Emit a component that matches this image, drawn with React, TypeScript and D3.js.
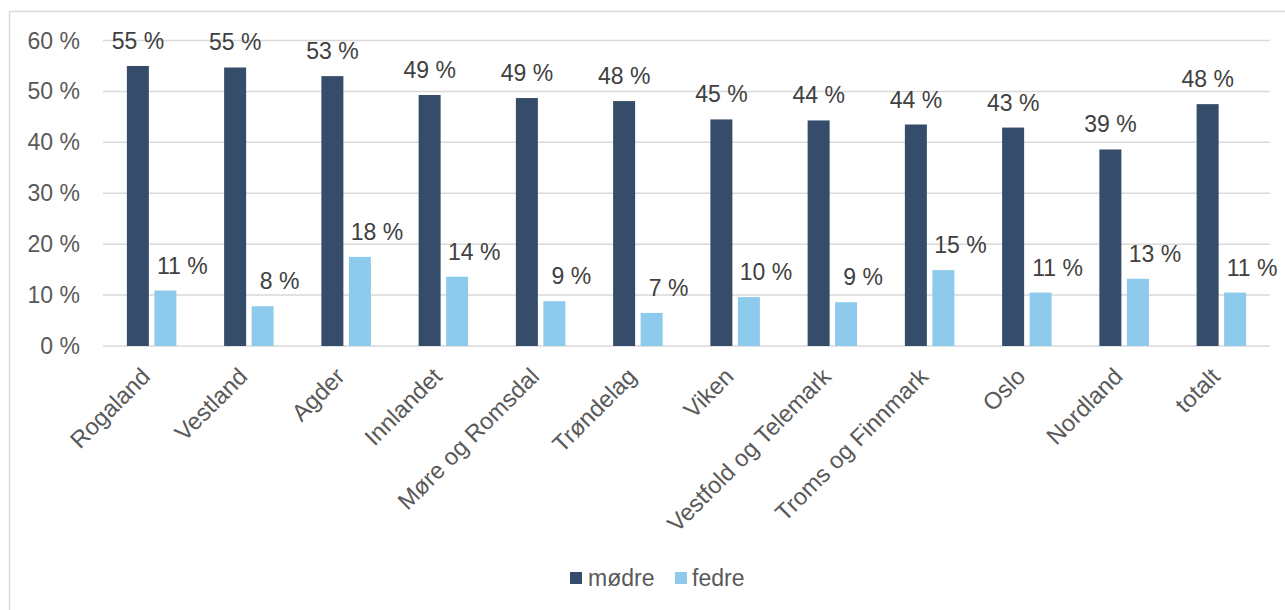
import React from "react";
import * as d3 from "d3";

const categories = [
  "Rogaland", "Vestland", "Agder", "Innlandet", "Møre og Romsdal", "Trøndelag",
  "Viken", "Vestfold og Telemark", "Troms og Finnmark", "Oslo", "Nordland", "totalt",
];
const modre = [55.0, 54.7, 53.0, 49.3, 48.7, 48.1, 44.5, 44.3, 43.5, 42.9, 38.6, 47.5];
const fedre = [10.9, 7.8, 17.5, 13.6, 8.8, 6.5, 9.6, 8.6, 14.9, 10.5, 13.2, 10.5];
const modreLabels = ["55 %", "55 %", "53 %", "49 %", "49 %", "48 %", "45 %", "44 %", "44 %", "43 %", "39 %", "48 %"];
const fedreLabels = ["11 %", "8 %", "18 %", "14 %", "9 %", "7 %", "10 %", "9 %", "15 %", "11 %", "13 %", "11 %"];
const yTicks = [0, 10, 20, 30, 40, 50, 60];
const seriesNames = ["mødre", "fedre"];

const W = 1285;
const H = 610;
const FONT = "'Liberation Sans', Arial, sans-serif";
const C_MODRE = "#364C6B";
const C_FEDRE = "#8DCAEB";
const GRID = "#D9D9D9";
const TEXT = "#595959";
const LABEL = "#404040";

export default function App() {
  const x = d3.scaleBand<string>().domain(categories).range([103, 1270]).paddingInner(0).paddingOuter(0);
  const y = d3.scaleLinear().domain([0, 60]).range([346, 40.5]);
  const bw = 22;
  const gap = 5.5;

  return (
    <svg
      width={W}
      height={H}
      style={{ position: "absolute", left: 0, top: 0, display: "block" }}
      fontFamily={FONT}
    >
      <rect x={0} y={0} width={W} height={H} fill="#fff" />
      <rect x={9.5} y={11.5} width={1300} height={700} fill="none" stroke={GRID} strokeWidth={1.5} />
      {yTicks.map((t) => (
        <g key={t}>
          <line x1={103} x2={1270} y1={y(t)} y2={y(t)} stroke={GRID} strokeWidth={1.5} />
          <text x={80} y={y(t)} dy="0.35em" textAnchor="end" fontSize={23} fill={TEXT}>
            {t} %
          </text>
        </g>
      ))}
      {categories.map((c, i) => {
        const cx = (x(c) as number) + x.bandwidth() / 2;
        const mx = cx - gap / 2 - bw;
        const fx = cx + gap / 2;
        return (
          <g key={c}>
            <rect x={mx} y={y(modre[i])} width={bw} height={y(0) - y(modre[i])} fill={C_MODRE} />
            <rect x={fx} y={y(fedre[i])} width={bw} height={y(0) - y(fedre[i])} fill={C_FEDRE} />
            <text x={mx + bw / 2} y={y(modre[i]) - 17} textAnchor="middle" fontSize={23} fill={LABEL}>
              {modreLabels[i]}
            </text>
            <text x={fx + bw / 2 + 17} y={y(fedre[i]) - 17} textAnchor="middle" fontSize={23} fill={LABEL}>
              {fedreLabels[i]}
            </text>
            <text
              transform={`translate(${cx},${378}) rotate(-45)`}
              textAnchor="end"
              fontSize={23.7}
              fill={TEXT}
            >
              {c}
            </text>
          </g>
        );
      })}
      <g>
        <rect x={570} y={572} width={12} height={12} fill={C_MODRE} />
        <text x={588} y={578} dy="0.35em" fontSize={23} fill={TEXT}>{seriesNames[0]}</text>
        <rect x={675} y={572} width={12} height={12} fill={C_FEDRE} />
        <text x={692} y={578} dy="0.35em" fontSize={23} fill={TEXT}>{seriesNames[1]}</text>
      </g>
    </svg>
  );
}
